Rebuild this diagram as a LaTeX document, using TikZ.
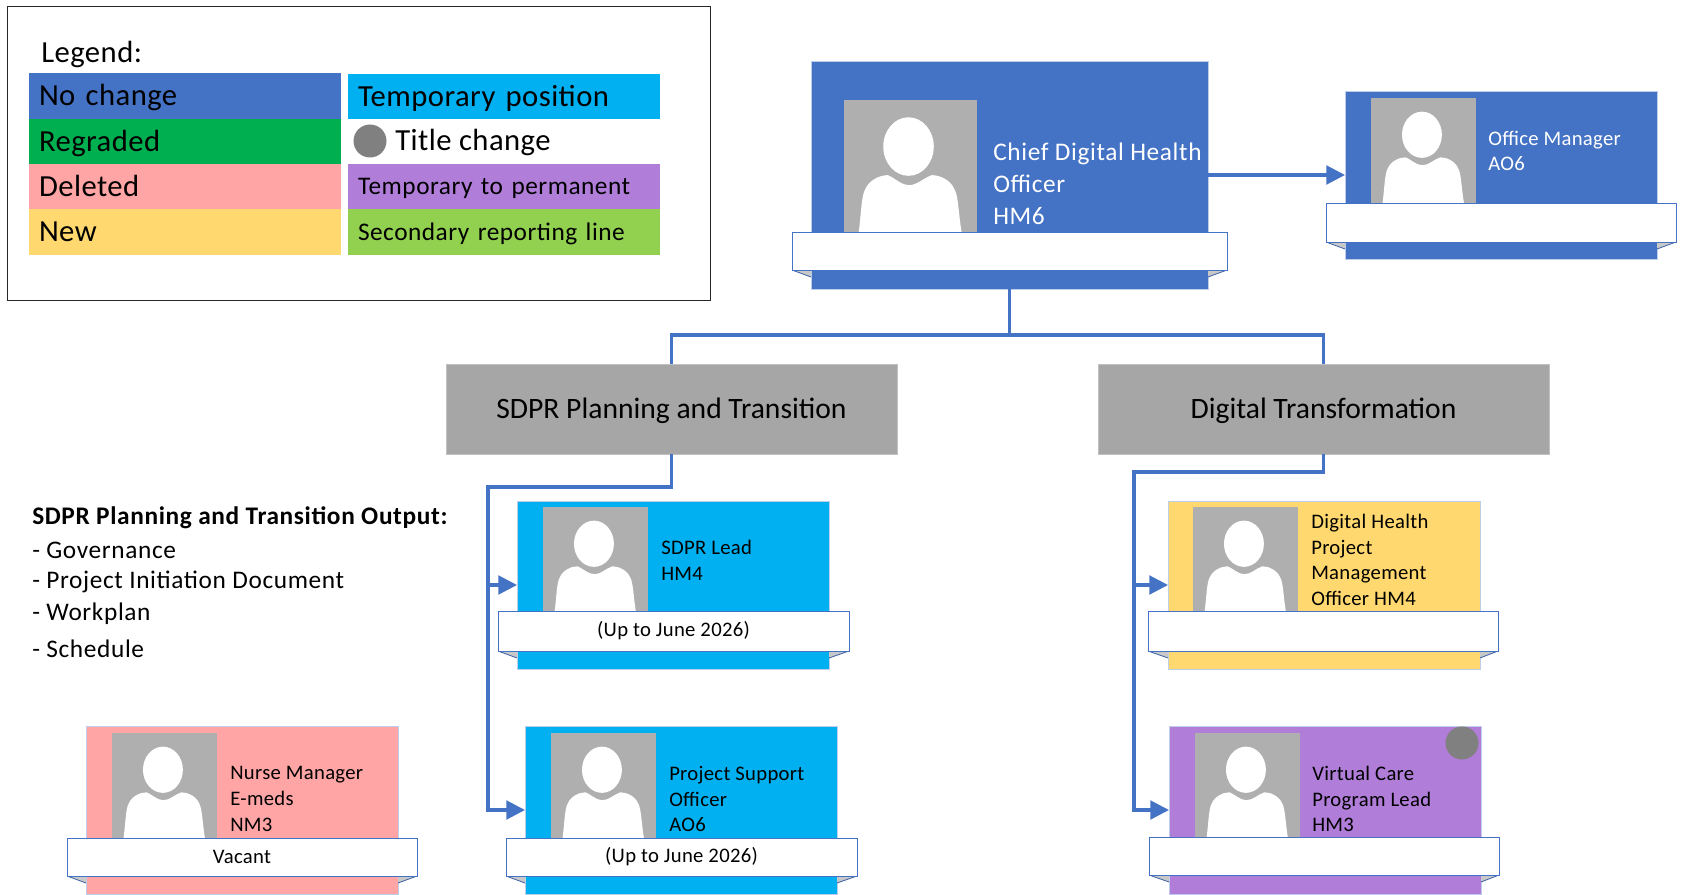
\documentclass[tikz,border=0pt]{standalone}
\usepackage{fontspec}
\setmainfont{Carlito}
\usetikzlibrary{arrows.meta}
\definecolor{cblue}{HTML}{4472C4}
\definecolor{ccyan}{HTML}{00B0F0}
\definecolor{cgreen}{HTML}{00B050}
\definecolor{cpink}{HTML}{FFA5A5}
\definecolor{cyellow}{HTML}{FFD96F}
\definecolor{cpurple}{HTML}{B07DD8}
\definecolor{clime}{HTML}{92D050}
\definecolor{cgrey}{HTML}{A6A6A6}
\definecolor{cphoto}{HTML}{AFAFAF}
\definecolor{cdot}{HTML}{808080}
\definecolor{cfold}{HTML}{C8C8C8}
\newfontfamily\cardface[LetterSpace=1.5]{Carlito}
\newfontfamily\wideface[LetterSpace=2.5]{Carlito}
\newfontfamily\legendface[LetterSpace=1.5]{Carlito}
\newfontfamily\legendsmall[LetterSpace=2]{Carlito}
\newcommand\cardfont{\cardface\fontsize{15.5}{19.3}\selectfont}
\tikzset{
  x=0.75pt,y=-0.75pt,
  cardbox/.style={draw=cblue!35!white,line width=0.6pt,inner sep=0pt,outer sep=0pt,anchor=north west},
  banner/.style={draw=cblue,fill=white,line width=0.7pt,inner sep=0pt,outer sep=0pt,anchor=north west,font=\cardfont},
  cardlabel/.style={anchor=west,inner sep=0pt,align=left},
  link/.style={draw=cblue,line width=2.3pt},
  linkarrow/.style={link,-{Triangle[length=14pt,width=14pt]}},
  groupbox/.style={draw=cgrey!70!white,fill=cgrey,line width=0.6pt,inner sep=0pt,outer sep=0pt,anchor=north west,minimum width=338.25pt,minimum height=67.5pt,text height=14pt,text depth=0pt,font=\fontsize{22.2}{26}\selectfont},
  cell/.style={inner xsep=7.5pt,inner ysep=0pt,outer sep=0pt,anchor=north west,text width=219pt,align=left,text depth=0pt},
  outline/.style={anchor=west,inner sep=0pt,font=\wideface\fontsize{19}{23}\selectfont},
}
% name, x, y, w, h, fill
\newcommand\cardbase[6]{\node[cardbox,fill=#6,minimum width=#4*0.75pt,minimum height=#5*0.75pt] (#1) at (#2,#3) {};}
% name, x, y, size
\newcommand\portrait[4]{%
  \node[anchor=north west,fill=cphoto,inner sep=0pt,outer sep=0pt,minimum size=#4*0.75pt] (#1) at (#2,#3) {};
  \begin{scope}[shift={(#2,#3)},x=#4*0.75pt,y=-#4*0.75pt]
    \fill[white] (0.485,0.35) ellipse[x radius=0.19,y radius=0.22];
    \fill[white] (0.11,1) .. controls (0.13,0.85) and (0.13,0.72) .. (0.16,0.67)
      .. controls (0.19,0.6) and (0.27,0.565) .. (0.33,0.565)
      .. controls (0.38,0.585) and (0.43,0.64) .. (0.49,0.64)
      .. controls (0.55,0.64) and (0.6,0.585) .. (0.66,0.565)
      .. controls (0.72,0.565) and (0.8,0.6) .. (0.83,0.67)
      .. controls (0.86,0.72) and (0.86,0.85) .. (0.885,1) -- cycle;
  \end{scope}}
% name, x0, y0, x1, y1, cardx0, cardx1, text
\newcommand\ribbon[8]{%
  \path[fill=cfold] (#2,#5) -- (#6,#5+7) -- (#6,#5) -- cycle;
  \path[fill=cfold] (#4,#5) -- (#7,#5+7) -- (#7,#5) -- cycle;
  \draw[cblue!85!black,line width=0.6pt] (#2,#5) -- (#6,#5+7);
  \draw[cblue!85!black,line width=0.6pt] (#4,#5) -- (#7,#5+7);
  \node[banner,minimum width=(#4-#2)*0.75pt,minimum height=(#5-#3)*0.75pt] (#1) at (#2,#3) {#8};}
\begin{document}
\begin{tikzpicture}
\useasboundingbox (0,0) rectangle (1682,895);
\fill[white] (0,0) rectangle (1682,895);

% Legend
\node[draw=black!85,line width=0.8pt,inner sep=0pt,anchor=north west,minimum width=527.25pt,minimum height=220.5pt] (legendbox) at (7,6) {};
\node[anchor=west,inner sep=0pt,font=\legendface\fontsize{23}{26}\selectfont] (legendtitle) at (41,54) {Legend:};
\begin{scope}[every node/.append style={font=\legendface\fontsize{23}{26}\selectfont}]
\node[cell,fill=cblue,text height=14.5pt,minimum height=46*0.75pt] (l1) at (29,73) {No change};
\node[cell,fill=cgreen,text height=14.5pt,minimum height=45*0.75pt] (l2) at (29,119) {Regraded};
\node[cell,fill=cpink,text height=14.5pt,minimum height=45*0.75pt] (l3) at (29,164) {Deleted};
\node[cell,fill=cyellow,text height=14.5pt,minimum height=46*0.75pt] (l4) at (29,209) {New};
\node[cell,fill=ccyan,text height=14.5pt,minimum height=45*0.75pt] (r1) at (348,74) {Temporary position};
\node[anchor=west,inner sep=0pt] (r2) at (395,142) {Title change};
\end{scope}
\node[circle,fill=cdot,inner sep=0pt,minimum size=33*0.75pt] (r2dot) at (370,141) {};
\begin{scope}[every node/.append style={font=\legendsmall\fontsize{19}{22}\selectfont}]
\node[cell,fill=cpurple,text height=12pt,minimum height=45*0.75pt] (r3) at (348,164) {Temporary to permanent};
\node[cell,fill=clime,text height=12pt,minimum height=46*0.75pt] (r4) at (348,209) {Secondary reporting line};
\end{scope}

% Group boxes
\node[groupbox] (planning) at (446,364) {SDPR Planning and Transition};
\node[groupbox] (transform) at (1098,364) {Digital Transformation};

% Cards
\cardbase{chief}{811}{61}{397}{228}{cblue}
\portrait{chiefphoto}{844}{100}{133}
\node[cardlabel,text=white,font=\wideface\fontsize{19}{24}\selectfont] (chieftext) at (993,184) {Chief Digital Health\\Officer\\HM6};
\ribbon{chiefbanner}{792}{232}{1227}{270}{811}{1208}{}

\cardbase{office}{1345}{91}{312}{168}{cblue}
\portrait{officephoto}{1371}{98}{105}
\node[cardlabel,text=white,font=\cardfont] (officetext) at (1488,151) {Office Manager\\AO6};
\ribbon{officebanner}{1326}{203}{1676}{242}{1345}{1657}{}

\cardbase{lead}{517}{501}{312}{168}{ccyan}
\portrait{leadphoto}{543}{507}{105}
\node[cardlabel,font=\cardfont] (leadtext) at (661,560) {SDPR Lead\\HM4};
\ribbon{leadbanner}{498}{611}{849}{651}{517}{829}{(Up to June 2026)}

\cardbase{support}{525}{726}{312}{168}{ccyan}
\portrait{supportphoto}{551}{733}{105}
\node[cardlabel,font=\cardfont] (supporttext) at (669,799) {Project Support\\Officer\\AO6};
\ribbon{supportbanner}{506}{838}{857}{876}{525}{837}{(Up to June 2026)}

\cardbase{nurse}{86}{726}{312}{168}{cpink}
\portrait{nursephoto}{112}{733}{105}
\node[cardlabel,font=\cardfont] (nursetext) at (230,799) {Nurse Manager\\E-meds\\NM3};
\ribbon{nursebanner}{67}{838}{417}{876}{86}{398}{Vacant}

\cardbase{dhpmo}{1168}{501}{312}{168}{cyellow}
\portrait{dhpmophoto}{1193}{507}{105}
\node[cardlabel,font=\cardfont] (dhpmotext) at (1311,560) {Digital Health\\Project\\Management\\Officer HM4};
\ribbon{dhpmobanner}{1148}{611}{1498}{651}{1168}{1480}{}

\cardbase{virtual}{1169}{726}{312}{168}{cpurple}
\portrait{virtualphoto}{1195}{733}{105}
\node[cardlabel,font=\cardfont] (virtualtext) at (1312,799) {Virtual Care\\Program Lead\\HM3};
\ribbon{virtualbanner}{1149}{837}{1499}{875}{1169}{1481}{}
\node[circle,fill=cdot,inner sep=0pt,minimum size=33*0.75pt] (virtualdot) at (1462,743) {};

% Output list
\node[outline,font=\wideface\fontsize{19}{23}\selectfont\bfseries] (o0) at (32,518) {SDPR Planning and Transition Output:};
\node[outline] (o1) at (32,550) {- Governance};
\node[outline] (o2) at (32,582) {- Project Initiation Document};
\node[outline] (o3) at (32,614) {- Workplan};
\node[outline] (o4) at (32,649) {- Schedule};

% Connectors
\coordinate (hub) at (1009.5,335);
\coordinate (leftdrop) at (488,487);
\coordinate (rightdrop) at (1134,472);
\draw[linkarrow] (chief.east) -- (office.west);
\draw[link] (chief.south) -- (hub);
\draw[link] (hub) -| (planning.north);
\draw[link] (hub) -| (transform.north);
\draw[linkarrow] (planning.south) |- (leftdrop) |- (lead.west);
\draw[linkarrow] (leftdrop) |- (support.west);
\draw[linkarrow] (transform.south) |- (rightdrop) |- (dhpmo.west);
\draw[linkarrow] (rightdrop) |- (virtual.west);
\end{tikzpicture}
\end{document}
